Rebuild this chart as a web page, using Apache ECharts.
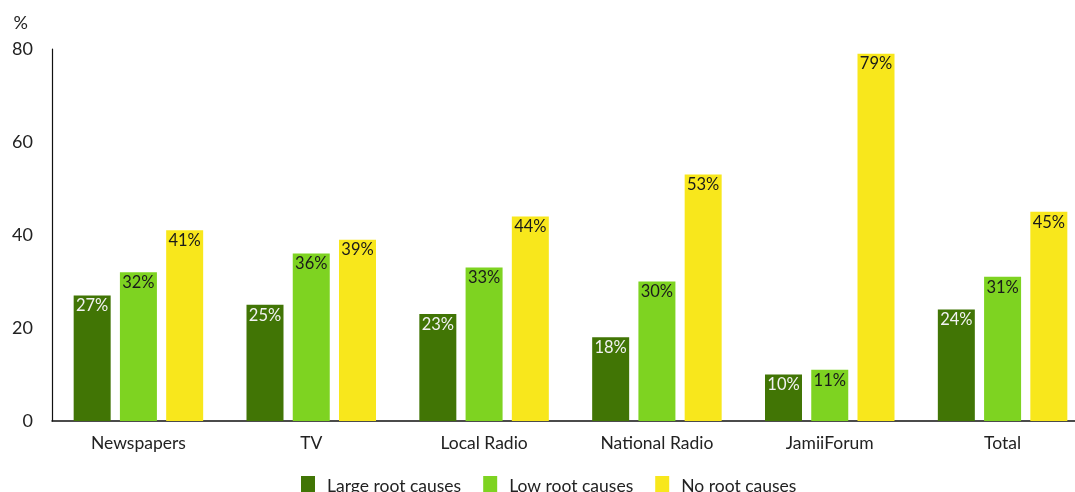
<!DOCTYPE html>
<html>
<head>
<meta charset="utf-8">
<script src="https://cdn.jsdelivr.net/npm/echarts@6/dist/echarts.min.js"></script>
<style>html,body{margin:0;padding:0;background:#fff}#c{width:1075px;height:492px}</style>
</head>
<body>
<div id="c"></div>
<script>
const categories = ['Newspapers', 'TV', 'Local Radio', 'National Radio', 'JamiiForum', 'Total'];
const largeRoot = [27, 25, 23, 18, 10, 24];
const lowRoot = [32, 36, 33, 30, 11, 31];
const noRoot = [41, 39, 44, 53, 79, 45];
const yTicks = [0, 20, 40, 60, 80];

const font = 'Lato';
const chart = echarts.init(document.getElementById('c'), null, {renderer: 'canvas'});
function mk(name, data, color, labelColor) {
  return {
    name, type: 'bar', data, barWidth: 37, barGap: '25%',
    itemStyle: {color},
    label: {show: true, position: 'insideTop', distance: 2, formatter: '{c}%', color: labelColor, fontFamily: font, fontSize: 16.5},
    emphasis: {disabled: true}
  };
}
chart.setOption({
  animation: false,
  textStyle: {fontFamily: font},
  grid: {left: 52, width: 1037, top: 49, bottom: 71, containLabel: false, outerBoundsMode: 'none'},
  legend: {
    top: 471, left: 296, itemWidth: 14, itemHeight: 20, itemGap: 22,
    icon: 'rect',
    textStyle: {fontFamily: font, fontSize: 17.5, color: '#222', padding: [0, 0, 0, 7]},
    data: ['Large root causes', 'Low root causes', 'No root causes']
  },
  xAxis: {
    type: 'category', data: categories,
    axisLine: {lineStyle: {color: '#111', width: 1.5}},
    axisTick: {show: false},
    axisLabel: {color: '#222', fontFamily: font, fontSize: 17.5, margin: 13}
  },
  yAxis: {
    type: 'value', min: 0, max: 80, interval: 20,
    name: '%', nameLocation: 'end', nameGap: 17,
    nameTextStyle: {color: '#222', fontFamily: font, fontSize: 18, align: 'right', padding: [0, 24, 0, 0]},
    axisLine: {show: true, lineStyle: {color: '#111', width: 1.2}},
    axisTick: {show: false},
    splitLine: {show: false},
    axisLabel: {color: '#222', fontFamily: font, fontSize: 18, margin: 19,
      formatter: v => yTicks.includes(v) ? String(v) : ''}
  },
  series: [
    mk('Large root causes', largeRoot, '#417505', '#f2f2f2'),
    mk('Low root causes', lowRoot, '#7ed321', '#1a1a1a'),
    mk('No root causes', noRoot, '#f8e71c', '#1a1a1a')
  ]
});
</script>
</body>
</html>
